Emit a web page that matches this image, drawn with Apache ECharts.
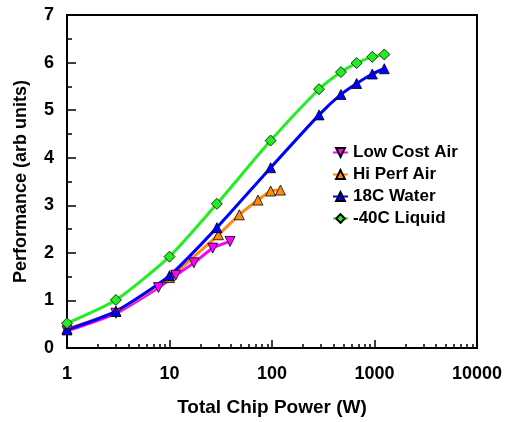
<!DOCTYPE html>
<html>
<head>
<meta charset="utf-8">
<script src="https://cdn.jsdelivr.net/npm/echarts@6/dist/echarts.min.js"></script>
<style>
  html, body { margin: 0; padding: 0; background: #fff; }
  #chart1 { width: 505px; height: 422px; }
</style>
</head>
<body>
<div id="chart1"></div>
<script>
    // values
    var seriesNames = ['Low Cost Air', 'Hi Perf Air', '18C Water', '-40C Liquid'];
    var lowCostX = [1, 3, 7.8, 11.5, 17.3, 26.4, 39];
    var lowCostY = [0.36, 0.73, 1.27, 1.53, 1.79, 2.1, 2.24];
    var hiPerfX = [1, 3, 10, 30, 48, 73, 97, 121];
    var hiPerfY = [0.4, 0.77, 1.48, 2.38, 2.8, 3.11, 3.3, 3.32];
    var waterX = [1, 3, 10, 29, 97, 288, 471, 670, 952, 1247];
    var waterY = [0.38, 0.77, 1.52, 2.53, 3.79, 4.9, 5.33, 5.56, 5.76, 5.87];
    var liquidX = [1, 3, 10, 29, 97, 288, 471, 670, 952, 1247];
    var liquidY = [0.52, 1.01, 1.92, 3.03, 4.36, 5.44, 5.8, 5.99, 6.12, 6.17];
    var xMinorTicks = [1,2,3,4,5,6,7,8,9,10,20,30,40,50,60,70,80,90,100,200,300,400,500,600,700,800,900,
        1000,2000,3000,4000,5000,6000,7000,8000,9000,10000];

    function pairs(xs, ys) {
        var out = [];
        for (var i = 0; i < xs.length; i++) {
            out.push([xs[i], ys[i]]);
        }
        return out;
    }

    var font = 'Liberation Sans, Arial, sans-serif';

    function makeSeries(name, xs, ys, color, symbol, rotate) {
        return {
            name: name,
            type: 'line',
            data: pairs(xs, ys),
            smooth: 0.2,
            symbol: symbol,
            symbolSize: symbol === 'diamond' ? 11 : 10,
            symbolRotate: rotate || 0,
            lineStyle: { color: color, width: 3 },
            itemStyle: { color: color, borderColor: '#000', borderWidth: 0.8 },
            emphasis: { disabled: true }
        };
    }

    var option = {
        animation: false,
        grid: {
            left: 67, right: 28, top: 15, bottom: 71,
            show: true, borderColor: '#000', borderWidth: 2
        },
        legend: {
            orient: 'vertical',
            left: 327,
            top: 139,
            itemWidth: 15,
            itemHeight: 11,
            itemGap: 5,
            data: seriesNames,
            textStyle: { fontFamily: font, fontWeight: 'bold', fontSize: 17, color: '#000' }
        },
        xAxis: [
            {
                type: 'log',
                logBase: 10,
                min: 1,
                max: 10000,
                name: 'Total Chip Power (W)',
                nameLocation: 'middle',
                nameGap: 50,
                nameTextStyle: { fontFamily: font, fontWeight: 'bold', fontSize: 19, color: '#000' },
                axisLine: { lineStyle: { color: '#000', width: 2 } },
                axisTick: { inside: true, length: 8, lineStyle: { color: '#000', width: 1.5 } },
                axisLabel: {
                    margin: 17, fontFamily: font, fontWeight: 'bold', fontSize: 18, color: '#000',
                    formatter: function (v) { return String(Math.round(v)); }
                },
                splitLine: { show: false }
            },
            {
                type: 'log',
                logBase: 10,
                min: 1,
                max: 10000,
                position: 'bottom',
                axisLine: { show: false },
                axisTick: { inside: true, length: 4, customValues: xMinorTicks, lineStyle: { color: '#000', width: 1.5 } },
                axisLabel: { show: false },
                splitLine: { show: false }
            }
        ],
        yAxis: {
            type: 'value',
            min: 0,
            max: 7,
            interval: 1,
            name: 'Performance (arb units)',
            nameLocation: 'middle',
            nameGap: 37,
            nameTextStyle: { fontFamily: font, fontWeight: 'bold', fontSize: 18, color: '#000' },
            axisLine: { show: true, lineStyle: { color: '#000', width: 2 } },
            axisTick: { show: true, inside: true, length: 9, lineStyle: { color: '#000', width: 1.5 } },
            minorTick: { show: true, splitNumber: 2, length: 5, lineStyle: { color: '#000', width: 1.5 } },
            axisLabel: { margin: 13, fontFamily: font, fontWeight: 'bold', fontSize: 18, color: '#000' },
            splitLine: { show: false }
        },
        series: [
            makeSeries(seriesNames[0], lowCostX, lowCostY, '#ff00ff', 'triangle', 180),
            makeSeries(seriesNames[1], hiPerfX, hiPerfY, '#ff8a12', 'triangle'),
            makeSeries(seriesNames[2], waterX, waterY, '#0000ff', 'triangle'),
            makeSeries(seriesNames[3], liquidX, liquidY, '#22ee22', 'diamond')
        ]
    };

    var myChart = echarts.init(document.getElementById('chart1'));
    myChart.setOption(option);
</script>
</body>
</html>
